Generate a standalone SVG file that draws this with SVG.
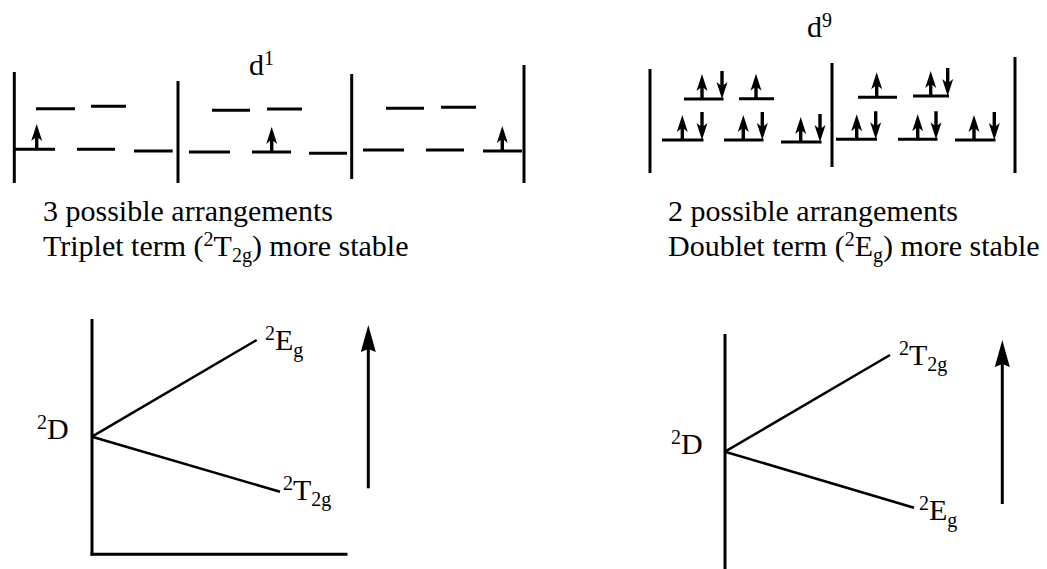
<svg xmlns="http://www.w3.org/2000/svg" xmlns:xlink="http://www.w3.org/1999/xlink" width="1047" height="569" viewBox="0 0 1047 569">
<style>
  .bar { stroke: #000; stroke-width: 3; fill: none; }
  .orb { stroke: #000; stroke-width: 3; fill: none; }
  .ax { stroke: #000; stroke-width: 3; fill: none; }
  .diag { stroke: #000; stroke-width: 2.5; fill: none; }
  .big { stroke: #000; stroke-width: 3; fill: none; marker-end: url(#bigHead); }
  text { font-family: "Liberation Serif", "Times New Roman", serif; font-size: 30px; fill: #000; }
  .s { font-size: 20px; }
</style>
<defs>
  <path id="up" d="M-1.7,0 L-1.7,-11 L-5.5,-8 L0,-25 L5.5,-8 L1.7,-11 L1.7,0 Z" fill="#000"/>
  <path id="dn" d="M-1.7,-28 L1.7,-28 L1.7,-14 L5.5,-17 L0,0 L-5.5,-17 L-1.7,-14 Z" fill="#000"/>
  <marker id="bigHead" viewBox="0 0 27 15" refX="17" refY="7.5" markerWidth="27" markerHeight="15" orient="auto" markerUnits="userSpaceOnUse">
    <path d="M0,0 L27,7.5 L0,15 L3,7.5 Z" fill="#000"/>
  </marker>
</defs>

<rect width="1047" height="569" fill="#fff"/>

<!-- d1 configurations -->
<g id="d1">
  <text x="249" y="75">d<tspan class="s" dy="-10">1</tspan></text>
  <line class="bar" x1="14.3" y1="72" x2="14.3" y2="183"/>
  <line class="bar" x1="178" y1="81" x2="178" y2="183"/>
  <line class="bar" x1="351.7" y1="74" x2="351.7" y2="179"/>
  <line class="bar" x1="524" y1="65" x2="524" y2="183"/>
  <g id="d1-box1">
    <line class="orb" x1="36" y1="108.7" x2="75" y2="108.7"/>
    <line class="orb" x1="91" y1="106.3" x2="126" y2="106.3"/>
    <line class="orb" x1="15" y1="149.3" x2="55" y2="149.3"/>
    <line class="orb" x1="77" y1="149.3" x2="115" y2="149.3"/>
    <line class="orb" x1="134" y1="151" x2="172.7" y2="151"/>
    <use href="#up" x="36.7" y="149"/>
  </g>
  <g id="d1-box2">
    <line class="orb" x1="212" y1="110.3" x2="250" y2="110.3"/>
    <line class="orb" x1="267" y1="109" x2="302" y2="109"/>
    <line class="orb" x1="189" y1="152" x2="230" y2="152"/>
    <line class="orb" x1="252" y1="152" x2="291" y2="152"/>
    <line class="orb" x1="309" y1="153.3" x2="347" y2="153.3"/>
    <use href="#up" x="271.7" y="152"/>
  </g>
  <g id="d1-box3">
    <line class="orb" x1="386" y1="108.3" x2="424" y2="108.3"/>
    <line class="orb" x1="441" y1="107.3" x2="476" y2="107.3"/>
    <line class="orb" x1="363" y1="150" x2="404" y2="150"/>
    <line class="orb" x1="426" y1="150" x2="464" y2="150"/>
    <line class="orb" x1="483" y1="151" x2="522" y2="151"/>
    <use href="#up" x="502.3" y="151"/>
  </g>
  <text x="43" y="221">3 possible arrangements</text>
  <text x="43" y="256">Triplet term (<tspan class="s" dy="-10">2</tspan><tspan dy="10">T</tspan><tspan class="s" dy="6">2g</tspan><tspan dy="-6">) more stable</tspan></text>
</g>

<!-- d9 configurations -->
<g id="d9">
  <text x="807" y="37">d<tspan class="s" dy="-10">9</tspan></text>
  <line class="bar" x1="650" y1="69" x2="650" y2="173"/>
  <line class="bar" x1="832" y1="63" x2="832" y2="167"/>
  <line class="bar" x1="1015" y1="57" x2="1015" y2="173"/>
  <g id="d9-box1">
    <line class="orb" x1="684" y1="99" x2="723.5" y2="99"/>
    <use href="#up" x="702" y="99"/>
    <use href="#dn" x="722" y="99"/>
    <line class="orb" x1="739" y1="98.7" x2="774" y2="98.7"/>
    <use href="#up" x="756" y="98.7"/>
    <line class="orb" x1="662" y1="140" x2="703.5" y2="140"/>
    <use href="#up" x="682.3" y="140"/>
    <use href="#dn" x="702" y="140"/>
    <line class="orb" x1="724" y1="140" x2="763.5" y2="140"/>
    <use href="#up" x="743.3" y="140"/>
    <use href="#dn" x="762.3" y="140"/>
    <line class="orb" x1="781" y1="142" x2="821.5" y2="142"/>
    <use href="#up" x="800.7" y="142"/>
    <use href="#dn" x="820" y="142"/>
  </g>
  <g id="d9-box2">
    <line class="orb" x1="858" y1="97.3" x2="897" y2="97.3"/>
    <use href="#up" x="876.7" y="97.3"/>
    <line class="orb" x1="913" y1="96" x2="949" y2="96"/>
    <use href="#up" x="930.7" y="96"/>
    <use href="#dn" x="947.7" y="96"/>
    <line class="orb" x1="836" y1="139.3" x2="877" y2="139.3"/>
    <use href="#up" x="856.7" y="139.3"/>
    <use href="#dn" x="875.7" y="139.3"/>
    <line class="orb" x1="898" y1="139.3" x2="937.5" y2="139.3"/>
    <use href="#up" x="917.7" y="139.3"/>
    <use href="#dn" x="936" y="139.3"/>
    <line class="orb" x1="955" y1="140" x2="995.5" y2="140"/>
    <use href="#up" x="974" y="140"/>
    <use href="#dn" x="994.3" y="140"/>
  </g>
  <text x="668" y="221">2 possible arrangements</text>
  <text x="668" y="256">Doublet term (<tspan class="s" dy="-10">2</tspan><tspan dy="10">E</tspan><tspan class="s" dy="6">g</tspan><tspan dy="-6">) more stable</tspan></text>
</g>

<!-- left term diagram -->
<g id="term-left">
  <line class="ax" x1="92" y1="319" x2="92" y2="555.5"/>
  <line class="ax" x1="90.5" y1="554.3" x2="347.5" y2="554.3"/>
  <text x="37" y="439"><tspan class="s" dy="-10">2</tspan><tspan dy="10">D</tspan></text>
  <text x="265" y="350"><tspan class="s" dy="-10">2</tspan><tspan dy="10">E</tspan><tspan class="s" dy="7">g</tspan></text>
  <text x="283" y="500"><tspan class="s" dy="-10">2</tspan><tspan dy="10">T</tspan><tspan class="s" dy="6">2g</tspan></text>
</g>

<!-- right term diagram -->
<g id="term-right">
  <line class="ax" x1="725" y1="334" x2="725" y2="569"/>
  <text x="671" y="454"><tspan class="s" dy="-10">2</tspan><tspan dy="10">D</tspan></text>
  <text x="899" y="365"><tspan class="s" dy="-10">2</tspan><tspan dy="10">T</tspan><tspan class="s" dy="6">2g</tspan></text>
  <text x="919" y="520"><tspan class="s" dy="-10">2</tspan><tspan dy="10">E</tspan><tspan class="s" dy="7">g</tspan></text>
</g>

<g id="connectors">
  <line class="diag" x1="92" y1="436.7" x2="256.7" y2="340"/>
  <line class="diag" x1="92" y1="436.7" x2="280" y2="491.7"/>
  <line class="diag" x1="725" y1="451.7" x2="890" y2="355"/>
  <line class="diag" x1="725" y1="451.7" x2="914" y2="507.7"/>
  <line class="big" x1="368.3" y1="488.3" x2="368.3" y2="335"/>
  <line class="big" x1="1002.3" y1="504" x2="1002.3" y2="350"/>
</g>
</svg>
